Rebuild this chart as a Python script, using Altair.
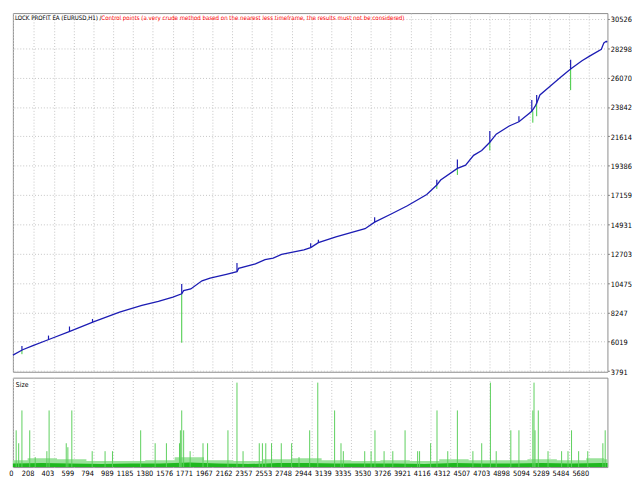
import altair as alt
import pandas as pd

# balance curve: trade number / balance
bal_trade = [0, 96, 191, 354, 555, 794, 1052, 1272, 1435, 1578, 1665, 1684, 1754, 1865, 1945,
             2105, 2210, 2226, 2392, 2487, 2567, 2650, 2870, 2937, 3013, 3186, 3473, 3568, 3731,
             3891, 4082, 4181, 4219, 4384, 4465, 4544, 4624, 4704, 4767, 4895, 4991, 5118, 5150,
             5166, 5198, 5310, 5405, 5501, 5613, 5692, 5804, 5829, 5852, 5862]
bal_value = [5000, 5410, 5707, 6190, 6784, 7526, 8269, 8789, 9086, 9405, 9658, 9903, 10029,
             10645, 10846, 11143, 11336, 11588, 11930, 12257, 12375, 12650, 12999, 13170, 13541,
             13987, 14603, 15101, 15717, 16341, 17202, 17923, 18294, 19185, 19430, 20173, 20544,
             21168, 21784, 22401, 22727, 23514, 23886, 24138, 24755, 25497, 26114, 26737, 27354,
             27725, 28222, 28713, 28839, 28765]

# balance spikes (up, blue)
spike_trade = [89, 351, 558, 785, 1665, 2210, 2937, 3013, 3568, 4181, 4384, 4704, 4991, 5118, 5166, 5501]
spike_base = [5410, 6190, 6784, 7526, 9658, 11336, 13170, 13541, 15101, 17923, 19185, 21168,
              22727, 23514, 24138, 26737]
spike_top = [5692, 6487, 7177, 7749, 10400, 12004, 13489, 13764, 15472, 18316, 19853, 22029,
             23143, 24383, 24755, 27428]

# equity dips (down, green)
dip_trade = [89, 1665, 4181, 4384, 4704, 5128, 5166, 5501]
dip_base = [5410, 9658, 17923, 19185, 21168, 23514, 24138, 26737]
dip_low = [5076, 5945, 17626, 18687, 20544, 22653, 23143, 25126]

# lot sizes of the larger trades
size_trade = [32, 57, 89, 166, 220, 335, 357, 526, 542, 581, 782, 909, 982, 1260, 1403, 1514,
              1643, 1652, 1665, 1684, 1748, 1875, 1920, 2121, 2210, 2270, 2430, 2461, 2494, 2551,
              2647, 2749, 2822, 2927, 3007, 3173, 3236, 3259, 3470, 3533, 3571, 3661, 3747, 3868,
              3992, 4011, 4120, 4183, 4289, 4384, 4537, 4624, 4710, 4767, 4911, 4991, 5128, 5140,
              5150, 5182, 5278, 5412, 5475, 5510, 5580, 5670, 5819, 5842]
size_lots = [0.37, 0.24, 0.57, 0.37, 0.10, 0.16, 0.57, 0.24, 0.20, 0.57, 0.16, 0.16, 0.16, 0.37,
             0.24, 0.24, 0.24, 0.37, 0.57, 0.37, 0.16, 0.24, 0.24, 0.37, 0.85, 0.16, 0.24, 0.24,
             0.24, 0.24, 0.24, 0.24, 0.10, 0.37, 0.85, 0.57, 0.24, 0.16, 0.16, 0.16, 0.37, 0.16,
             0.16, 0.37, 0.16, 0.16, 0.24, 0.57, 0.16, 0.57, 0.16, 0.24, 0.85, 0.16, 0.37, 0.37,
             0.57, 0.85, 0.37, 0.57, 0.16, 0.16, 0.16, 0.37, 0.16, 0.16, 0.24, 0.37]

# the dense band of small trades along the bottom
band_trade = [0, 290, 580, 870, 1160, 1450, 1740, 2030, 2320, 2610, 2900, 3190, 3480, 3770,
              4060, 4350, 4640, 4930, 5220, 5510, 5800, 5864]
band_low = [0.035, 0.04, 0.035, 0.03, 0.035, 0.035, 0.045, 0.035, 0.03, 0.04, 0.04, 0.035,
            0.035, 0.035, 0.03, 0.04, 0.035, 0.035, 0.04, 0.035, 0.04, 0.04]
band_high = [0.07, 0.09, 0.08, 0.06, 0.06, 0.07, 0.10, 0.07, 0.06, 0.08, 0.09, 0.07, 0.06,
             0.07, 0.06, 0.08, 0.07, 0.07, 0.08, 0.07, 0.09, 0.08]

x_ticks = [0, 208, 403, 599, 794, 989, 1185, 1380, 1576, 1771, 1967, 2162, 2357, 2553, 2748,
           2944, 3139, 3335, 3530, 3726, 3921, 4116, 4312, 4507, 4703, 4898, 5094, 5289, 5484, 5680]
y_ticks = [3791, 6019, 8247, 10475, 12703, 14931, 17159, 19386, 21614, 23842, 26070, 28298, 30526]

FONT = "DejaVu Sans Condensed, DejaVu Sans, sans-serif"
W = 605
GRID = dict(grid=True, gridColor="#c4c4c4", gridDash=[1, 2], gridWidth=1)

x_scale = alt.Scale(domain=[0, 5864], nice=False, zero=False)
one_row = pd.DataFrame({"k": [0]})

# main panel
x_main = alt.X("trade:Q", scale=x_scale, title=None,
               axis=alt.Axis(values=x_ticks, labels=False, ticks=False, domain=False, **GRID))
y_main = alt.Y("balance:Q", title=None,
               scale=alt.Scale(domain=[3740, 30975], nice=False, zero=False),
               axis=alt.Axis(orient="right", values=y_ticks, format="d", domain=False, tickSize=2,
                             tickColor="#808080", labelPadding=1, labelOffset=1,
                             labelOverlap=False, **GRID))

bal_df = pd.DataFrame({"trade": bal_trade, "balance": bal_value})
spike_df = pd.DataFrame({"trade": spike_trade, "balance": spike_base, "balance2": spike_top})
dip_df = pd.DataFrame({"trade": dip_trade, "balance": dip_base, "balance2": dip_low})

dips = alt.Chart(dip_df).mark_rule(color="#3cc83c", strokeWidth=1).encode(
    x=x_main, y=y_main, y2="balance2:Q")
line = alt.Chart(bal_df).mark_line(color="#1c1cb4", strokeWidth=1.3).encode(x=x_main, y=y_main)
spikes = alt.Chart(spike_df).mark_rule(color="#1c1cb4", strokeWidth=1.2).encode(
    x=x_main, y=y_main, y2="balance2:Q")

title_black = alt.Chart(one_row).mark_text(
    text="LOCK PROFIT EA (EURUSD,H1) / ", align="left", baseline="middle",
    font=FONT, fontSize=6.2, color="black").encode(x=alt.value(2), y=alt.value(5))
title_red = alt.Chart(one_row).mark_text(
    text="Control points (a very crude method based on the nearest less timeframe, the results must not be considered)",
    align="left", baseline="middle", font=FONT, fontSize=6.2, color="#ff0000").encode(
    x=alt.value(90), y=alt.value(5))

main = alt.layer(dips, line, spikes, title_black, title_red).properties(width=W, height=365)

# size panel
x_size = alt.X("trade:Q", scale=x_scale, title=None,
               axis=alt.Axis(values=x_ticks, format="d", ticks=False, domain=False,
                             labelAlign="right", labelFlush=True, labelOverlap=False,
                             labelPadding=3, labelBaseline="top", **GRID))
lots_scale = alt.Scale(domain=[0, 0.9], nice=False)

band_df = pd.DataFrame({"trade": band_trade, "lots": band_low, "hi": band_high})
size_df = pd.DataFrame({"trade": size_trade, "lots": size_lots, "zero": 0.0})

fuzz = alt.Chart(band_df).mark_area(color="#9be29b", interpolate="step").encode(
    x=x_size, y=alt.Y("hi:Q", scale=lots_scale, axis=None))
band = alt.Chart(band_df).mark_area(color="#1fb81f").encode(
    x=x_size, y=alt.Y("lots:Q", scale=lots_scale, axis=None))
bars = alt.Chart(size_df).mark_rule(color="#5ccf5c", strokeWidth=1).encode(
    x=x_size, y=alt.Y("zero:Q", scale=lots_scale, axis=None), y2="lots:Q")
size_label = alt.Chart(one_row).mark_text(
    text="Size", align="left", baseline="middle", font=FONT, fontSize=7, color="black").encode(
    x=alt.value(3), y=alt.value(7))

size = alt.layer(fuzz, band, bars, size_label).properties(width=W, height=91)

chart = alt.vconcat(main, size, spacing=0).properties(
    padding={"left": 0, "top": 0, "right": 0, "bottom": 0},
    background="white",
).configure_view(
    stroke="#8c8c8c", strokeWidth=1
).configure_axis(
    labelFont=FONT, labelFontSize=7.5, labelColor="black"
)

chart.save("out.html", embed_options={"renderer": "svg", "actions": False})
